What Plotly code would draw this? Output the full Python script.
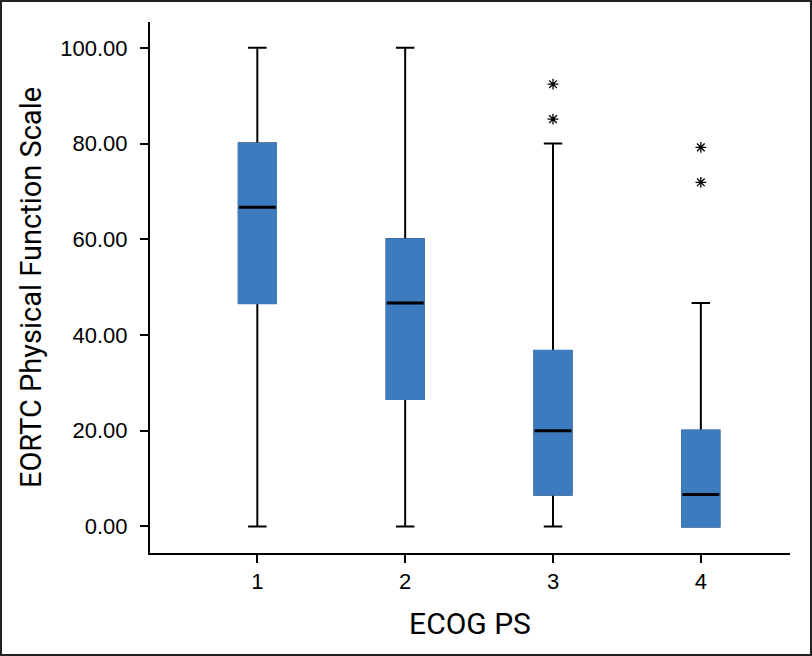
import plotly.graph_objects as go

# ---- data ----
categories = [1, 2, 3, 4]
tick_labels = ["1", "2", "3", "4"]
q1 = [46.67, 26.67, 6.67, 0.0]
median = [66.67, 46.67, 20.0, 6.67]
q3 = [80.0, 60.0, 36.67, 20.0]
lower_fence = [0.0, 0.0, 0.0, 0.0]
upper_fence = [100.0, 100.0, 80.0, 46.67]
outlier_x = [3, 3, 4, 4]
outlier_y = [92.4, 85.1, 79.2, 71.9]

# ---- style ----
BLUE = "#3D7BBF"
BOX_W = 0.25
W, H = 812, 656
ML, MR, MT, MB = 150, 22, 22, 103
NARROW = "Liberation Sans Narrow, Arial Narrow, Roboto, sans-serif"
REG = "Liberation Sans, Arial, sans-serif"

fig = go.Figure()

# whiskers + caps (black)
fig.add_trace(go.Box(
    x=categories, q1=q1, median=median, q3=q3,
    lowerfence=lower_fence, upperfence=upper_fence,
    fillcolor=BLUE, line=dict(color="black", width=2),
    whiskerwidth=0.5, width=BOX_W, boxpoints=False,
    showlegend=False, hoverinfo="skip",
))
# blue box body without outline
fig.add_trace(go.Box(
    x=categories, q1=q1, median=median, q3=q3,
    lowerfence=q1, upperfence=q3,
    fillcolor=BLUE, line=dict(color=BLUE, width=2.3),
    whiskerwidth=0, width=BOX_W, boxpoints=False,
    showlegend=False, hoverinfo="skip",
))

# median lines
mx, my = [], []
for c, m in zip(categories, median):
    mx += [c - BOX_W / 2, c + BOX_W / 2, None]
    my += [m, m, None]
fig.add_trace(go.Scatter(
    x=mx, y=my, mode="lines", line=dict(color="black", width=3),
    showlegend=False, hoverinfo="skip",
))

# outliers
fig.add_trace(go.Scatter(
    x=outlier_x, y=outlier_y, mode="markers",
    marker=dict(symbol="asterisk-open", size=9, color="black",
                line=dict(color="black", width=1.3)),
    showlegend=False,
))

pw = W - ML - MR
ph = H - MT - MB
fig.add_shape(
    type="rect", xref="paper", yref="paper",
    x0=(1 - ML) / pw, x1=(W - 1 - ML) / pw,
    y0=-(MB - 1) / ph, y1=1 + (MT - 1) / ph,
    line=dict(color="#222222", width=2), fillcolor="rgba(0,0,0,0)",
    layer="above",
)

fig.update_layout(
    width=W, height=H,
    margin=dict(l=ML, r=MR, t=MT, b=MB, autoexpand=False),
    paper_bgcolor="white", plot_bgcolor="white",
    boxmode="overlay",
    xaxis=dict(
        range=[0.274, 4.603], tickvals=categories, ticktext=tick_labels,
        showgrid=False, zeroline=False,
        showline=True, linecolor="black", linewidth=2,
        ticks="outside", ticklen=8, tickwidth=2, tickcolor="black",
        tickfont=dict(family=REG, size=22, color="black"),
        title=dict(text="ECOG PS", font=dict(family=NARROW, size=30, color="black"),
                   standoff=20),
    ),
    yaxis=dict(
        range=[-5.55, 105.4], tick0=0, dtick=20, tickformat=".2f",
        showgrid=False, zeroline=False,
        showline=True, linecolor="black", linewidth=2,
        ticks="outside", ticklen=8, tickwidth=2, tickcolor="black",
        ticklabelstandoff=8,
        tickfont=dict(family=REG, size=22, color="black"),
        title=dict(text="EORTC Physical Function Scale",
                   font=dict(family=NARROW, size=29, color="black"), standoff=10),
    ),
)

fig.write_html("out.html", config={"displayModeBar": False},
               post_script="document.body.style.margin='0';")
